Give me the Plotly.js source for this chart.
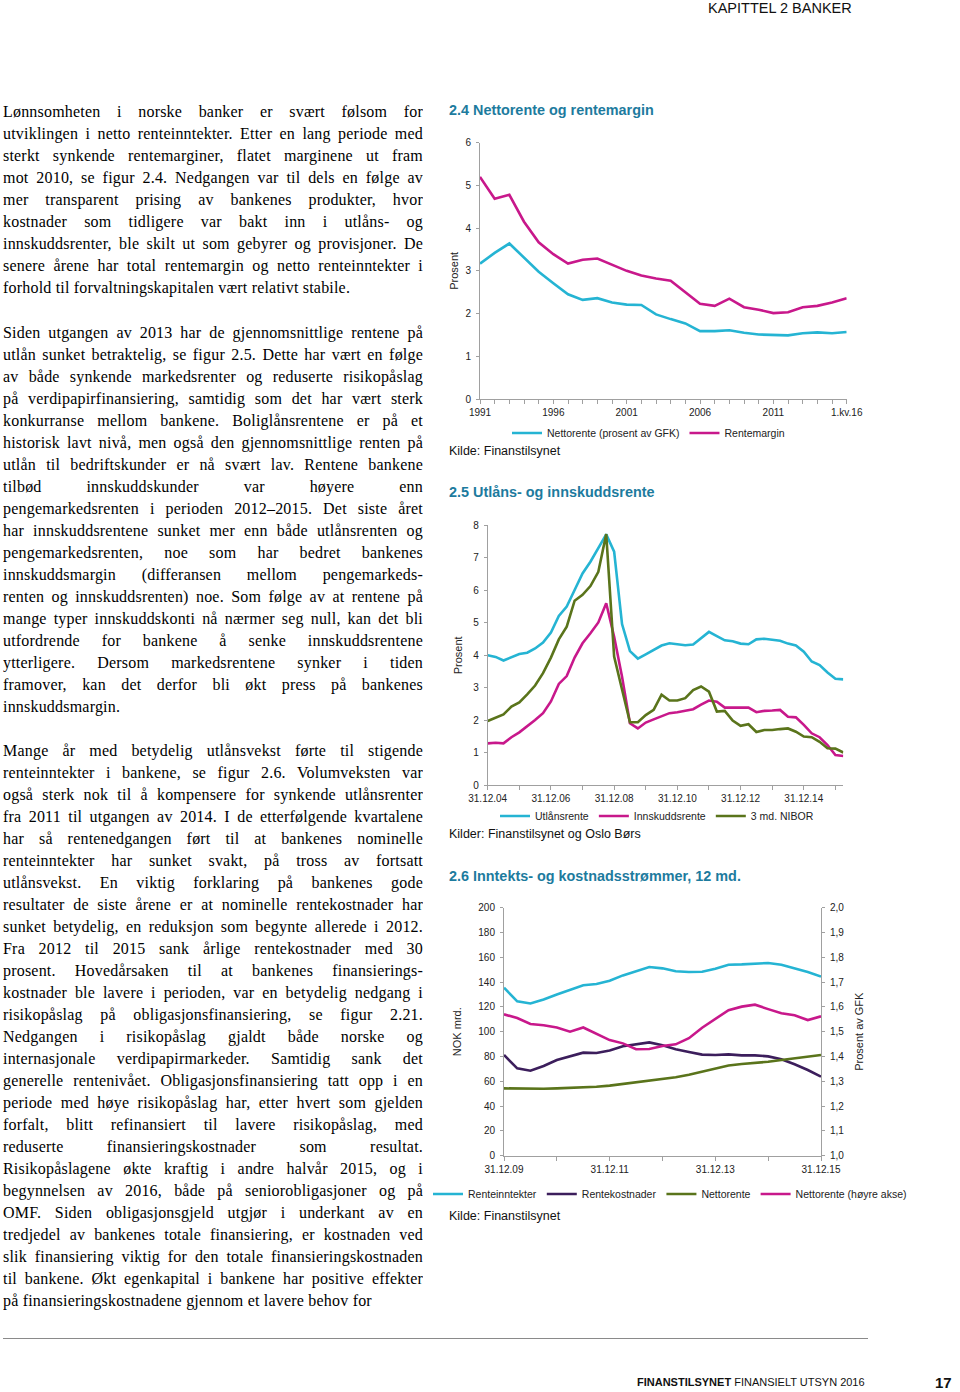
<!DOCTYPE html>
<html><head><meta charset="utf-8">
<script src="https://cdn.plot.ly/plotly-3.0.1.min.js"></script>
<style>
html,body{margin:0;padding:0;background:#fff;}
#page{position:relative;width:960px;height:1392px;overflow:hidden;background:#fff;}
#plot{position:absolute;left:0;top:0;width:960px;height:1392px;}
.col{position:absolute;left:3px;width:420px;font-family:"Liberation Serif","DejaVu Serif",serif;font-size:16px;letter-spacing:0.2px;line-height:22px;color:#000;z-index:5;}
.col div{text-align:justify;text-align-last:justify;height:22px;overflow:hidden;}
.col div.l{text-align:left;text-align-last:left;}
.hdr{position:absolute;left:708px;top:1px;font-family:"Liberation Sans",Arial,sans-serif;font-size:14.5px;line-height:15px;color:#111;z-index:5;}
.rule{position:absolute;left:3px;top:1338px;width:865px;height:0;border-top:1px solid #8a8a8a;z-index:5;}
.ftr{position:absolute;left:637px;top:1375px;font-family:"Liberation Sans",Arial,sans-serif;font-size:11px;line-height:14px;color:#111;z-index:5;}
.pg{position:absolute;left:935px;top:1374px;font-family:"Liberation Sans",Arial,sans-serif;font-size:15px;font-weight:bold;line-height:18px;color:#111;z-index:5;}
</style></head>
<body><div id="page">
<div id="plot"></div>
<div class="hdr">KAPITTEL 2 BANKER</div>

<div class="col" style="top:101px">
<div>Lønnsomheten i norske banker er svært følsom for</div>
<div>utviklingen i netto renteinntekter. Etter en lang periode med</div>
<div>sterkt synkende rentemarginer, flatet marginene ut fram</div>
<div>mot 2010, se figur 2.4. Nedgangen var til dels en følge av</div>
<div>mer transparent prising av bankenes produkter, hvor</div>
<div>kostnader som tidligere var bakt inn i utlåns- og</div>
<div>innskuddsrenter, ble skilt ut som gebyrer og provisjoner. De</div>
<div>senere årene har total rentemargin og netto renteinntekter i</div>
<div class="l">forhold til forvaltningskapitalen vært relativt stabile.</div>
</div>

<div class="col" style="top:322px">
<div>Siden utgangen av 2013 har de gjennomsnittlige rentene på</div>
<div>utlån sunket betraktelig, se figur 2.5. Dette har vært en følge</div>
<div>av både synkende markedsrenter og reduserte risikopåslag</div>
<div>på verdipapirfinansiering, samtidig som det har vært sterk</div>
<div>konkurranse mellom bankene. Boliglånsrentene er på et</div>
<div>historisk lavt nivå, men også den gjennomsnittlige renten på</div>
<div>utlån til bedriftskunder er nå svært lav. Rentene bankene</div>
<div>tilbød innskuddskunder var høyere enn</div>
<div>pengemarkedsrenten i perioden 2012–2015. Det siste året</div>
<div>har innskuddsrentene sunket mer enn både utlånsrenten og</div>
<div>pengemarkedsrenten, noe som har bedret bankenes</div>
<div>innskuddsmargin (differansen mellom pengemarkeds-</div>
<div>renten og innskuddsrenten) noe. Som følge av at rentene på</div>
<div>mange typer innskuddskonti nå nærmer seg null, kan det bli</div>
<div>utfordrende for bankene å senke innskuddsrentene</div>
<div>ytterligere. Dersom markedsrentene synker i tiden</div>
<div>framover, kan det derfor bli økt press på bankenes</div>
<div class="l">innskuddsmargin.</div>
</div>

<div class="col" style="top:740px">
<div>Mange år med betydelig utlånsvekst førte til stigende</div>
<div>renteinntekter i bankene, se figur 2.6. Volumveksten var</div>
<div>også sterk nok til å kompensere for synkende utlånsrenter</div>
<div>fra 2011 til utgangen av 2014. I de etterfølgende kvartalene</div>
<div>har så rentenedgangen ført til at bankenes nominelle</div>
<div>renteinntekter har sunket svakt, på tross av fortsatt</div>
<div>utlånsvekst. En viktig forklaring på bankenes gode</div>
<div>resultater de siste årene er at nominelle rentekostnader har</div>
<div>sunket betydelig, en reduksjon som begynte allerede i 2012.</div>
<div>Fra 2012 til 2015 sank årlige rentekostnader med 30</div>
<div>prosent. Hovedårsaken til at bankenes finansierings-</div>
<div>kostnader ble lavere i perioden, var en betydelig nedgang i</div>
<div>risikopåslag på obligasjonsfinansiering, se figur 2.21.</div>
<div>Nedgangen i risikopåslag gjaldt både norske og</div>
<div>internasjonale verdipapirmarkeder. Samtidig sank det</div>
<div>generelle rentenivået. Obligasjonsfinansiering tatt opp i en</div>
<div>periode med høye risikopåslag har, etter hvert som gjelden</div>
<div>forfalt, blitt refinansiert til lavere risikopåslag, med</div>
<div>reduserte finansieringskostnader som resultat.</div>
<div>Risikopåslagene økte kraftig i andre halvår 2015, og i</div>
<div>begynnelsen av 2016, både på seniorobligasjoner og på</div>
<div>OMF. Siden obligasjonsgjeld utgjør i underkant av en</div>
<div>tredjedel av bankenes totale finansiering, er kostnaden ved</div>
<div>slik finansiering viktig for den totale finansieringskostnaden</div>
<div>til bankene. Økt egenkapital i bankene har positive effekter</div>
<div class="l">på finansieringskostnadene gjennom et lavere behov for</div>
</div>

<div class="rule"></div>
<div class="ftr"><b>FINANSTILSYNET</b> FINANSIELT UTSYN 2016</div>
<div class="pg">17</div>
</div>

<script>
// ---------- Figur 2.4 ----------
const years24 = ['1991','1992','1993','1994','1995','1996','1997','1998','1999','2000',
  '2001','2002','2003','2004','2005','2006','2007','2008','2009','2010',
  '2011','2012','2013','2014','2015','1.kv.16'];
const nettorente24 = [3.17,3.42,3.64,3.32,2.98,2.71,2.45,2.32,2.36,2.26,
  2.21,2.20,1.98,1.87,1.77,1.59,1.59,1.61,1.55,1.51,
  1.50,1.49,1.54,1.56,1.54,1.57];
const rentemargin24 = [5.20,4.69,4.78,4.15,3.67,3.39,3.17,3.26,3.29,3.14,
  3.00,2.89,2.82,2.77,2.51,2.23,2.18,2.35,2.15,2.09,
  2.01,2.03,2.15,2.18,2.26,2.36];

// ---------- Figur 2.5 ----------
const quarters25 = ['31.12.04','31.03.05','30.06.05','30.09.05','31.12.05','31.03.06','30.06.06','30.09.06',
  '31.12.06','31.03.07','30.06.07','30.09.07','31.12.07','31.03.08','30.06.08','30.09.08',
  '31.12.08','31.03.09','30.06.09','30.09.09','31.12.09','31.03.10','30.06.10','30.09.10',
  '31.12.10','31.03.11','30.06.11','30.09.11','31.12.11','31.03.12','30.06.12','30.09.12',
  '31.12.12','31.03.13','30.06.13','30.09.13','31.12.13','31.03.14','30.06.14','30.09.14',
  '31.12.14','31.03.15','30.06.15','30.09.15','31.12.15','31.03.16'];
const utlansrente25 = [4.00,3.95,3.84,3.95,4.04,4.08,4.21,4.39,4.70,5.21,
  5.50,6.01,6.52,6.88,7.29,7.72,7.19,4.96,4.13,3.90,
  4.03,4.16,4.30,4.37,4.33,4.31,4.33,4.53,4.72,4.59,
  4.46,4.43,4.36,4.34,4.49,4.51,4.47,4.45,4.36,4.30,
  4.11,3.81,3.70,3.47,3.28,3.26];
const innskuddsrente25 = [1.29,1.31,1.29,1.48,1.63,1.81,2.01,2.22,2.58,3.12,
  3.36,3.93,4.37,4.68,5.01,5.60,4.57,3.34,1.91,1.75,
  1.93,2.03,2.13,2.22,2.25,2.29,2.34,2.48,2.61,2.57,
  2.39,2.39,2.39,2.39,2.25,2.29,2.30,2.32,2.11,2.09,
  1.86,1.60,1.48,1.24,0.93,0.90];
const nibor25 = [1.98,2.07,2.18,2.42,2.55,2.80,3.07,3.45,3.93,4.49,
  4.88,5.68,5.86,6.13,6.57,7.73,3.96,2.95,1.94,1.94,
  2.16,2.32,2.79,2.61,2.61,2.68,2.93,3.04,2.88,2.27,
  2.29,1.99,1.83,1.88,1.64,1.70,1.70,1.73,1.75,1.65,
  1.50,1.48,1.34,1.14,1.13,1.01];

// ---------- Figur 2.6 ----------
const quarters26 = ['31.12.09','31.03.10','30.06.10','30.09.10','31.12.10','31.03.11','30.06.11','30.09.11',
  '31.12.11','31.03.12','30.06.12','30.09.12','31.12.12','31.03.13','30.06.13','30.09.13',
  '31.12.13','31.03.14','30.06.14','30.09.14','31.12.14','31.03.15','30.06.15','30.09.15','31.12.15'];
const renteinntekter26 = [135.5,124.5,122.8,126.0,130.0,134.0,137.4,138.4,141.1,145.4,
  148.9,152.2,151.1,148.7,148.1,148.4,150.8,154.0,154.3,155.1,
  155.4,154.0,151.1,148.1,144.4];
const rentekostnader26 = [81.2,70.4,68.5,72.3,77.2,80.4,83.1,82.8,84.9,88.2,
  89.5,91.4,89.0,85.8,83.6,81.5,81.2,81.7,80.9,80.9,
  80.1,77.7,73.7,69.1,63.7];
const nettorente26 = [54.3,54.0,54.0,54.0,54.3,54.6,55.1,55.6,56.5,57.8,
  59.4,60.8,62.1,63.2,65.3,68.0,70.7,72.8,73.9,74.7,
  75.8,77.2,78.5,80.1,81.2];
const nettorentePst26 = [1.570,1.555,1.531,1.526,1.517,1.500,1.517,1.491,1.466,1.453,
  1.429,1.430,1.442,1.449,1.474,1.516,1.551,1.587,1.601,1.609,
  1.591,1.574,1.566,1.547,1.562];

// ---------- styling ----------
const W = 960, H = 1392;
const px = v => v / W, py = v => 1 - v / H;
const CYAN = '#25b4d3', MAG = '#c8188b', OLIVE = '#5a741b', PURP = '#3c1e5c', TEAL = '#1d7b9e', AX = '#a0a0a0';
const FONT = 'Liberation Sans, Arial, sans-serif';
const tickFont = {family: FONT, size: 10, color: '#222'};

function sparseLabels(cats, step, every) {
  const vals = [], txt = [];
  cats.forEach((c, i) => { if (i % step === 0) { vals.push(c); txt.push(i % every === 0 ? c : ''); } });
  return {vals, txt};
}
const t24 = sparseLabels(years24, 1, 5);
const t25 = sparseLabels(quarters25, 4, 8);
const t26 = sparseLabels(quarters26, 4, 8);

const baseX = {type: 'category', showgrid: false, zeroline: false, showline: true, linecolor: AX, linewidth: 1,
  ticks: 'outside', ticklen: 4, tickcolor: AX, tickfont: tickFont, tickmode: 'array', tickangle: 0, fixedrange: true};
const baseY = {showgrid: false, zeroline: false, showline: true, linecolor: AX, linewidth: 1,
  ticks: 'outside', ticklen: 3, tickcolor: AX, tickfont: tickFont, fixedrange: true, ticklabelstandoff: 3};

const lw = 2.6;
const traces = [
  {x: years24, y: nettorente24, name: 'Nettorente (prosent av GFK)', type: 'scatter', mode: 'lines', xaxis: 'x', yaxis: 'y', legend: 'legend', line: {color: CYAN, width: lw}},
  {x: years24, y: rentemargin24, name: 'Rentemargin', type: 'scatter', mode: 'lines', xaxis: 'x', yaxis: 'y', legend: 'legend', line: {color: MAG, width: lw}},
  {x: quarters25, y: utlansrente25, name: 'Utlånsrente', type: 'scatter', mode: 'lines', xaxis: 'x2', yaxis: 'y2', legend: 'legend2', line: {color: CYAN, width: lw}},
  {x: quarters25, y: innskuddsrente25, name: 'Innskuddsrente', type: 'scatter', mode: 'lines', xaxis: 'x2', yaxis: 'y2', legend: 'legend2', line: {color: MAG, width: lw}},
  {x: quarters25, y: nibor25, name: '3 md. NIBOR', type: 'scatter', mode: 'lines', xaxis: 'x2', yaxis: 'y2', legend: 'legend2', line: {color: OLIVE, width: lw}},
  {x: quarters26, y: renteinntekter26, name: 'Renteinntekter', type: 'scatter', mode: 'lines', xaxis: 'x3', yaxis: 'y3', legend: 'legend3', line: {color: CYAN, width: lw}},
  {x: quarters26, y: rentekostnader26, name: 'Rentekostnader', type: 'scatter', mode: 'lines', xaxis: 'x3', yaxis: 'y3', legend: 'legend3', line: {color: PURP, width: lw}},
  {x: quarters26, y: nettorente26, name: 'Nettorente', type: 'scatter', mode: 'lines', xaxis: 'x3', yaxis: 'y3', legend: 'legend3', line: {color: OLIVE, width: lw}},
  {x: quarters26, y: nettorentePst26, name: 'Nettorente (høyre akse)', type: 'scatter', mode: 'lines', xaxis: 'x3', yaxis: 'y4', legend: 'legend3', line: {color: MAG, width: lw}}
];

const legFont = {family: FONT, size: 10.5, color: '#222'};
const legBase = {orientation: 'h', xanchor: 'left', yanchor: 'middle', bgcolor: 'rgba(0,0,0,0)', font: legFont, traceorder: 'normal', itemclick: false, itemdoubleclick: false};
const axTitleFont = {family: FONT, size: 11, color: '#222'};

function ann(text, x, y, size, bold, color) {
  return {text: bold ? '<b>' + text + '</b>' : text, xref: 'paper', yref: 'paper', x: px(x), y: py(y),
    xanchor: 'left', yanchor: 'middle', showarrow: false, font: {family: FONT, size: size, color: color || '#111'}};
}

const layout = {
  width: W, height: H, margin: {l: 0, r: 0, t: 0, b: 0}, autosize: false,
  paper_bgcolor: '#fff', plot_bgcolor: 'rgba(0,0,0,0)', hovermode: false, separators: ', ',
  font: {family: FONT},
  showlegend: true,
  xaxis: Object.assign({}, baseX, {domain: [px(480), px(846.7)], anchor: 'y', range: [0, years24.length - 1], tickvals: t24.vals, ticktext: t24.txt}),
  yaxis: Object.assign({}, baseY, {domain: [py(399), py(142.7)], anchor: 'x', range: [0, 6], dtick: 1, tick0: 0,
    title: {text: 'Prosent', font: axTitleFont, standoff: 4}}),
  xaxis2: Object.assign({}, baseX, {domain: [px(487.7), px(843.3)], anchor: 'y2', range: [0, quarters25.length - 1], tickvals: t25.vals, ticktext: t25.txt}),
  yaxis2: Object.assign({}, baseY, {domain: [py(785.3), py(525.3)], anchor: 'x2', range: [0, 8], dtick: 1, tick0: 0,
    title: {text: 'Prosent', font: axTitleFont, standoff: 8}}),
  xaxis3: Object.assign({}, baseX, {domain: [px(504), px(821)], anchor: 'y3', range: [0, quarters26.length - 1], tickvals: t26.vals, ticktext: t26.txt}),
  yaxis3: Object.assign({}, baseY, {domain: [py(1155.7), py(907.7)], anchor: 'x3', range: [0, 200], dtick: 20, tick0: 0,
    title: {text: 'NOK mrd.', font: axTitleFont, standoff: 14}}),
  yaxis4: Object.assign({}, baseY, {overlaying: 'y3', anchor: 'x3', side: 'right', range: [1, 2], dtick: 0.1, tick0: 1, tickformat: '.1f',
    title: {text: 'Prosent av GFK', font: axTitleFont, standoff: 11}}),
  legend: Object.assign({}, legBase, {x: px(507), y: py(433)}),
  legend2: Object.assign({}, legBase, {x: px(495), y: py(816)}),
  legend3: Object.assign({}, legBase, {x: px(428), y: py(1194)}),
  annotations: [
    ann('2.4 Nettorente og rentemargin', 447, 110, 14.4, true, TEAL),
    ann('Kilde: Finanstilsynet', 447, 451, 12.5),
    ann('2.5 Utlåns- og innskuddsrente', 447, 492, 14.4, true, TEAL),
    ann('Kilder: Finanstilsynet og Oslo Børs', 447, 834, 12.5),
    ann('2.6 Inntekts- og kostnadsstrømmer, 12 md.', 447, 876, 14.4, true, TEAL),
    ann('Kilde: Finanstilsynet', 447, 1216, 12.5)
  ]
};

Plotly.newPlot('plot', traces, layout, {staticPlot: true, displayModeBar: false});

// keep every justified text line on one row
document.querySelectorAll('.col div').forEach(d => {
  let fs = 16;
  while (d.scrollHeight > 23 && fs > 11) { fs -= 0.25; d.style.fontSize = fs + 'px'; }
});
</script>
</body></html>
